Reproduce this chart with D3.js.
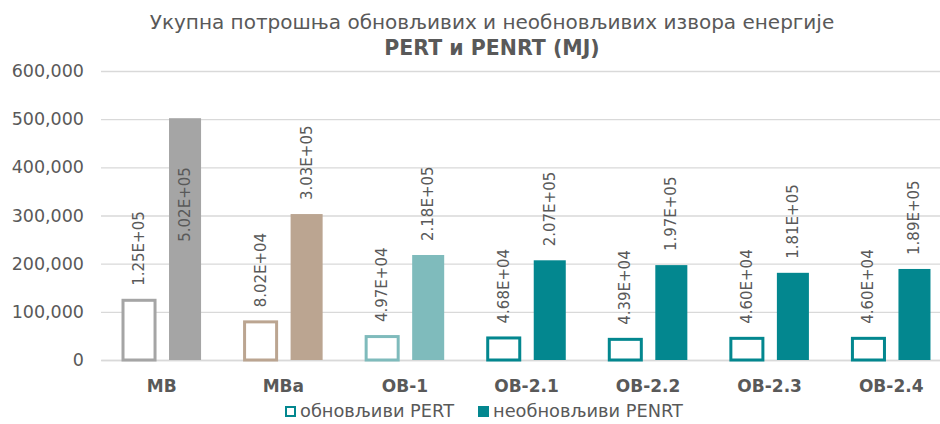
<!DOCTYPE html>
<html>
<head>
<meta charset="utf-8">
<script src="https://cdn.jsdelivr.net/npm/d3@7"></script>
<style>
  html, body { margin: 0; padding: 0; background: #fff; }
  svg { display: block; font-family: "DejaVu Sans", Verdana, sans-serif; }
</style>
</head>
<body>
<svg id="chart" width="940" height="424"></svg>
<script>
// Energy consumption per variant: renewable (PERT) and non-renewable (PENRT), MJ
const categories = ["MB", "MBa", "OB-1", "OB-2.1", "OB-2.2", "OB-2.3", "OB-2.4"];
const pertValues  = [1.25e5, 8.02e4, 4.97e4, 4.68e4, 4.39e4, 4.60e4, 4.60e4];
const penrtValues = [5.02e5, 3.03e5, 2.18e5, 2.07e5, 1.97e5, 1.81e5, 1.89e5];
const pertLabels  = ["1.25E+05", "8.02E+04", "4.97E+04", "4.68E+04", "4.39E+04", "4.60E+04", "4.60E+04"];
const penrtLabels = ["5.02E+05", "3.03E+05", "2.18E+05", "2.07E+05", "1.97E+05", "1.81E+05", "1.89E+05"];
const categoryColors = ["#A5A5A5", "#BBA591", "#7FBBBC", "#03878F", "#03878F", "#03878F", "#03878F"];
const yTicks = [0, 100000, 200000, 300000, 400000, 500000, 600000];
const titleLine1 = "Укупна потрошња обновљивих и необновљивих извора енергије";
const titleLine2 = "PERT и PENRT (MJ)";
const seriesNames = ["обновљиви PERT", "необновљиви PENRT"];
const seriesKeys = ["pert", "penrt"];

const svg = d3.select("#chart");
const textColor = "#595959";
const gridColor = "#D9D9D9";

const plot = { left: 101, right: 952, top: 71, bottom: 360 };

const x0 = d3.scaleBand().domain(categories).range([plot.left, plot.right]).padding(0);
const bw = x0.bandwidth();
const x1 = d3.scaleBand().domain(seriesKeys)
  .range([bw * 0.181, bw * 0.823]).paddingInner(0.304).paddingOuter(0);
const y = d3.scaleLinear().domain([0, 600000]).range([plot.bottom, plot.top]);

// Title
const title = svg.append("text")
  .attr("x", 492).attr("text-anchor", "middle").attr("fill", textColor);
title.append("tspan").attr("x", 492).attr("y", 29)
  .attr("font-size", 20).text(titleLine1);
title.append("tspan").attr("x", 492).attr("y", 55)
  .attr("font-size", 20.5).attr("font-weight", "bold").text(titleLine2);

// Gridlines and value axis
const yAxis = d3.axisLeft(y).tickValues(yTicks)
  .tickSize(-(plot.right - plot.left))
  .tickPadding(17)
  .tickFormat(d3.format(","));
const gy = svg.append("g").attr("transform", `translate(${plot.left},0)`).call(yAxis);
gy.select(".domain").remove();
gy.selectAll(".tick line").attr("stroke", gridColor).attr("stroke-width", 1.3);
gy.selectAll(".tick text").attr("fill", textColor).attr("font-size", 17.5)
  .attr("font-family", "DejaVu Sans, Verdana, sans-serif");

// Category axis
const xAxis = d3.axisBottom(x0).tickSize(0).tickPadding(20);
const gx = svg.append("g").attr("transform", `translate(0,${plot.bottom})`).call(xAxis);
gx.select(".domain").attr("stroke", gridColor).attr("stroke-width", 1.3);
gx.selectAll(".tick text").attr("fill", textColor).attr("font-size", 17)
  .attr("font-weight", "bold").attr("font-family", "DejaVu Sans, Verdana, sans-serif");

// Bars
const rows = categories.map((c, i) => ({
  cat: c, color: categoryColors[i],
  pert: pertValues[i], penrt: penrtValues[i],
  pertLabel: pertLabels[i], penrtLabel: penrtLabels[i]
}));

const groups = svg.append("g").selectAll("g").data(rows).join("g")
  .attr("transform", d => `translate(${x0(d.cat)},0)`);

const sw = 3;
groups.append("rect")
  .attr("x", x1("pert"))
  .attr("y", d => y(d.pert) + 0.5)
  .attr("width", x1.bandwidth())
  .attr("height", d => y(0) - y(d.pert) - 0.5)
  .attr("fill", "#fff").attr("stroke", d => d.color).attr("stroke-width", sw);

groups.append("rect")
  .attr("x", x1("penrt"))
  .attr("y", d => y(d.penrt))
  .attr("width", x1.bandwidth())
  .attr("height", d => y(0) - y(d.penrt))
  .attr("fill", d => d.color);

// Rotated value labels above each bar (inside the bar when there is no room above)
const labelSize = 15;
const labelGap = 14;
function addLabel(sel, key, labelKey) {
  sel.append("text")
    .attr("fill", textColor).attr("font-size", labelSize)
    .attr("dominant-baseline", "central")
    .each(function (d) {
      const t = d3.select(this).text(d[labelKey]);
      const len = this.getComputedTextLength();
      const cx = x1(key) + x1.bandwidth() / 2;
      let yStart = y(d[key]) - labelGap;
      if (yStart - len < plot.top - 30) {
        yStart = y(d[key]) + 49 + len;
      }
      t.attr("transform", `translate(${cx},${yStart}) rotate(-90)`);
    });
}
addLabel(groups, "pert", "pertLabel");
addLabel(groups, "penrt", "penrtLabel");

// Legend
const legend = svg.append("g").attr("transform", "translate(285,417)");
const legendItems = [
  { name: seriesNames[0], x: 0, hollow: true },
  { name: seriesNames[1], x: 193, hollow: false }
];
legendItems.forEach(it => {
  const g = legend.append("g").attr("transform", `translate(${it.x},0)`);
  if (it.hollow) {
    g.append("rect").attr("x", 1).attr("y", -10).attr("width", 9).attr("height", 9)
      .attr("fill", "#fff").attr("stroke", "#03878F").attr("stroke-width", 2);
  } else {
    g.append("rect").attr("x", 0).attr("y", -11).attr("width", 11).attr("height", 11)
      .attr("fill", "#03878F");
  }
  g.append("text").attr("x", 15).attr("y", 0)
    .attr("fill", textColor).attr("font-size", 17.8).text(it.name);
});
</script>
</body>
</html>
